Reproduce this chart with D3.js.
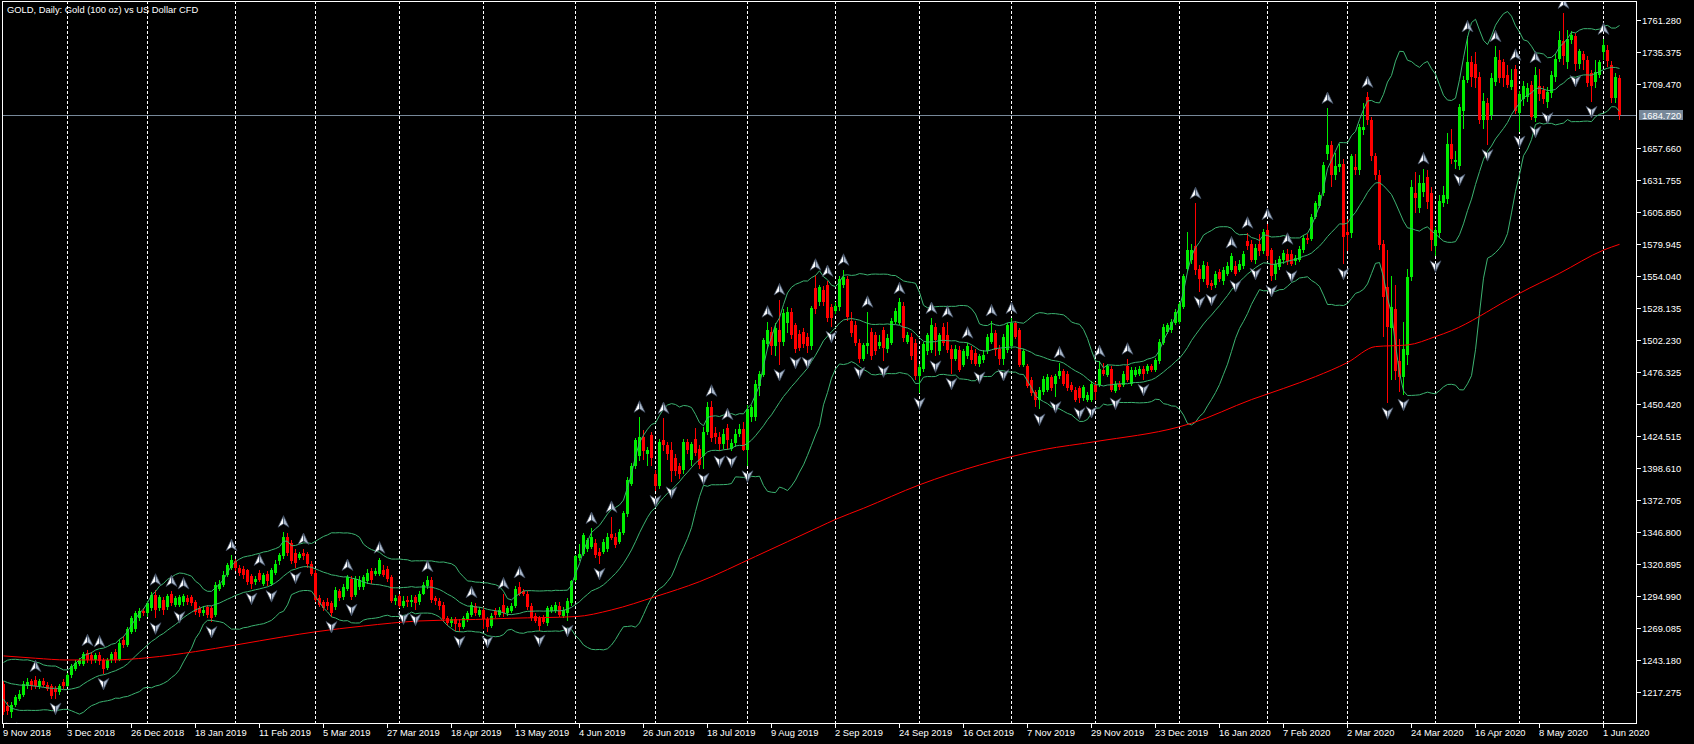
<!DOCTYPE html>
<html><head><meta charset="utf-8">
<script src="https://cdn.jsdelivr.net/npm/d3@7"></script>
<style>html,body{margin:0;padding:0;background:#000;overflow:hidden}</style>
</head><body>
<svg id="chart" width="1694" height="744"></svg>
<script>
// ---------- DATA ----------
const chartTitle = "GOLD, Daily: Gold (100 oz) vs US Dollar CFD";
const firstDate = "2018-11-09";
const holidays = ["2018-12-25","2019-01-01","2019-04-19","2019-12-25","2020-01-01","2020-04-10"];

const opens = [
1224,1206,1201,1207,1212,1215,1222,1226,1227,1222,
1226,1223,1222,1220,1217,1225,1222,1231,1236,1240,
1240,1249,1247,1243,1247,1243,1237,1243,1250,1243,
1259,1255,1266,1268,1277,1283,1281,1285,1296,1285,
1292,1286,1297,1288,1288,1290,1293,1294,1290,1285,
1281,1286,1285,1280,1301,1304,1312,1318,1323,1318,
1317,1316,1311,1306,1314,1305,1313,1305,1314,1323,
1327,1343,1338,1330,1326,1330,1329,1321,1314,1293,
1290,1290,1289,1286,1299,1294,1301,1309,1296,1302,
1302,1307,1315,1313,1313,1316,1317,1310,1291,1295,
1287,1292,1290,1294,1290,1297,1303,1308,1293,1291,
1288,1277,1273,1276,1273,1270,1276,1280,1287,1280,
1284,1276,1271,1283,1280,1288,1281,1283,1287,1302,
1299,1297,1287,1279,1277,1278,1273,1283,1283,1287,
1279,1281,1289,1308,1326,1329,1333,1335,1338,1331,
1331,1333,1345,1343,1339,1346,1361,1386,1400,1408,
1424,1410,1425,1394,1384,1421,1417,1413,1407,1400,
1397,1420,1405,1422,1414,1408,1428,1448,1427,1424,
1418,1431,1414,1419,1426,1430,1413,1440,1440,1465,
1474,1499,1509,1497,1510,1501,1516,1525,1514,1507,
1509,1505,1497,1544,1533,1543,1547,1529,1526,1529,
1547,1552,1518,1514,1500,1487,1497,1509,1506,1497,
1510,1495,1500,1517,1516,1530,1501,1505,1500,1473,
1479,1493,1494,1513,1493,1513,1506,1495,1487,1494,
1482,1489,1494,1492,1483,1486,1493,1501,1508,1495,
1487,1494,1497,1516,1510,1482,1481,1470,1460,1454,
1460,1462,1472,1467,1473,1477,1475,1466,1462,1463,
1455,1454,1454,1466,1466,1478,1474,1479,1461,1467,
1466,1481,1467,1474,1475,1479,1477,1481,1478,1485,
1500,1509,1510,1516,1517,1529,1560,1567,1578,1560,
1552,1562,1548,1547,1557,1550,1556,1559,1562,1559,
1562,1582,1580,1567,1580,1574,1591,1575,1556,1561,
1567,1572,1572,1566,1567,1575,1585,1584,1602,1611,
1621,1653,1660,1636,1642,1645,1590,1589,1642,1640,
1672,1699,1680,1651,1636,1580,1545,1512,1527,1485,
1472,1490,1553,1621,1609,1622,1634,1621,1578,1589,
1613,1616,1661,1646,1643,1688,1713,1727,1726,1715,
1680,1694,1684,1711,1729,1727,1717,1707,1722,1686,
1697,1699,1709,1682,1708,1705,1695,1702,1715,1730,
1744,1727,1745,1748,1726,1734,1729,1718,1711,1717,
1735,1737,1725,1698,1714];

const highs = [
1226,1209,1209,1215,1219,1226,1229,1228,1230,1228,
1229,1225,1224,1222,1224,1228,1233,1240,1243,1245,
1250,1251,1250,1249,1250,1245,1245,1250,1252,1260,
1263,1270,1279,1283,1285,1285,1291,1298,1300,1296,
1294,1297,1299,1295,1296,1297,1296,1296,1292,1287,
1287,1288,1287,1306,1308,1315,1322,1328,1325,1320,
1319,1317,1313,1311,1316,1314,1315,1318,1324,1330,
1347,1346,1340,1333,1331,1333,1331,1323,1316,1296,
1292,1293,1291,1302,1301,1305,1312,1311,1311,1311,
1312,1317,1318,1318,1326,1320,1319,1312,1296,1297,
1295,1295,1296,1296,1299,1306,1311,1310,1295,1293,
1290,1279,1278,1278,1276,1279,1283,1290,1289,1286,
1286,1278,1281,1285,1286,1297,1287,1289,1303,1306,
1301,1299,1289,1281,1279,1280,1287,1288,1290,1290,
1286,1293,1308,1328,1337,1346,1342,1350,1341,1334,
1341,1346,1359,1346,1349,1364,1391,1403,1423,1440,
1429,1416,1428,1397,1422,1439,1420,1420,1410,1403,
1422,1422,1420,1431,1417,1432,1452,1453,1432,1428,
1430,1434,1422,1430,1434,1436,1450,1450,1470,1477,
1504,1517,1513,1516,1535,1527,1529,1528,1516,1510,
1512,1508,1530,1555,1547,1546,1550,1531,1533,1554,
1559,1554,1525,1518,1503,1500,1525,1512,1509,1506,
1513,1507,1520,1528,1536,1533,1509,1508,1503,1483,
1501,1508,1520,1516,1508,1516,1517,1498,1498,1497,
1495,1500,1497,1495,1491,1494,1507,1518,1510,1498,
1507,1516,1520,1518,1512,1495,1483,1472,1462,1464,
1473,1475,1474,1475,1484,1479,1477,1468,1464,1465,
1466,1460,1469,1468,1485,1484,1483,1481,1469,1469,
1477,1487,1480,1480,1481,1481,1483,1483,1488,1503,
1515,1516,1519,1527,1533,1556,1590,1580,1613,1563,
1566,1565,1551,1558,1560,1561,1565,1573,1566,1567,
1574,1589,1583,1580,1588,1592,1596,1577,1567,1570,
1575,1576,1575,1571,1578,1587,1588,1604,1615,1622,
1646,1690,1663,1654,1661,1649,1600,1653,1653,1677,
1694,1703,1683,1654,1640,1583,1575,1554,1547,1503,
1517,1560,1632,1638,1636,1641,1640,1626,1594,1620,
1627,1670,1673,1655,1693,1716,1748,1732,1735,1719,
1702,1698,1718,1740,1737,1730,1725,1722,1725,1704,
1712,1710,1712,1723,1722,1708,1707,1720,1734,1752,
1767,1753,1752,1751,1738,1736,1732,1721,1729,1729,
1746,1741,1728,1718,1717];

const lows = [
1199,1199,1196,1205,1210,1213,1220,1219,1220,1220,
1221,1218,1212,1212,1215,1220,1221,1229,1234,1238,
1238,1241,1240,1241,1239,1232,1235,1241,1241,1242,
1253,1254,1264,1266,1275,1279,1278,1283,1277,1283,
1280,1284,1287,1286,1286,1287,1288,1287,1280,1278,
1279,1277,1274,1278,1299,1302,1310,1316,1315,1311,
1309,1304,1301,1304,1306,1303,1303,1303,1312,1320,
1325,1327,1321,1318,1324,1324,1318,1311,1290,1286,
1283,1284,1278,1284,1291,1292,1299,1292,1294,1300,
1300,1305,1305,1311,1311,1310,1306,1289,1288,1285,
1285,1286,1286,1284,1288,1296,1301,1289,1288,1284,
1274,1271,1270,1267,1266,1268,1274,1278,1279,1278,
1268,1266,1269,1277,1278,1278,1279,1281,1285,1295,
1295,1284,1275,1273,1267,1272,1271,1281,1281,1278,
1277,1275,1287,1306,1323,1327,1331,1333,1326,1321,
1329,1331,1340,1334,1337,1344,1359,1384,1398,1404,
1405,1400,1400,1380,1382,1412,1405,1387,1392,1390,
1394,1410,1400,1408,1398,1398,1425,1420,1418,1412,
1414,1413,1412,1416,1424,1412,1400,1436,1437,1457,
1472,1495,1490,1489,1482,1497,1508,1503,1492,1493,
1496,1492,1494,1523,1530,1530,1517,1513,1523,1526,
1544,1518,1505,1497,1484,1485,1491,1486,1490,1495,
1485,1492,1498,1515,1514,1501,1499,1486,1470,1459,
1476,1490,1492,1489,1490,1497,1492,1475,1485,1476,
1480,1487,1483,1481,1480,1484,1491,1499,1489,1482,
1482,1492,1495,1503,1480,1480,1463,1457,1448,1446,
1458,1460,1461,1456,1471,1465,1461,1460,1452,1451,
1453,1452,1452,1454,1464,1473,1472,1460,1459,1462,
1464,1468,1465,1472,1473,1470,1475,1476,1476,1483,
1498,1507,1508,1514,1515,1527,1557,1564,1555,1541,
1549,1544,1543,1544,1549,1547,1554,1557,1554,1557,
1560,1575,1565,1564,1570,1572,1567,1550,1551,1559,
1564,1563,1562,1563,1565,1573,1580,1582,1600,1609,
1619,1648,1626,1632,1638,1564,1574,1585,1636,1636,
1668,1676,1647,1632,1575,1505,1451,1470,1470,1460,
1458,1482,1550,1605,1605,1618,1608,1574,1570,1585,
1610,1612,1645,1641,1640,1673,1710,1707,1706,1677,
1673,1660,1680,1708,1710,1707,1706,1705,1685,1671,
1692,1695,1680,1679,1696,1693,1690,1698,1711,1727,
1725,1722,1742,1720,1722,1721,1707,1695,1706,1714,
1729,1723,1694,1694,1680];

const closes = [
1201,1202,1207,1213,1216,1224,1225,1222,1222,1226,
1223,1220,1214,1217,1222,1222,1231,1238,1241,1243,
1248,1243,1243,1247,1242,1236,1243,1248,1243,1257,
1255,1268,1277,1281,1283,1281,1289,1296,1284,1294,
1284,1295,1289,1293,1294,1295,1290,1289,1282,1281,
1284,1280,1277,1304,1305,1312,1320,1324,1318,1314,
1312,1306,1305,1309,1308,1312,1307,1316,1321,1328,
1343,1330,1323,1322,1329,1327,1321,1313,1292,1288,
1285,1287,1281,1300,1293,1302,1310,1294,1309,1308,
1310,1314,1308,1315,1324,1312,1309,1291,1293,1287,
1291,1290,1292,1289,1297,1304,1308,1292,1291,1287,
1276,1273,1276,1272,1270,1277,1281,1288,1281,1284,
1276,1270,1279,1280,1284,1281,1285,1287,1301,1297,
1297,1286,1277,1275,1271,1274,1285,1286,1288,1280,
1284,1291,1307,1327,1329,1344,1340,1343,1328,1327,
1339,1343,1342,1336,1347,1362,1389,1400,1421,1424,
1412,1413,1407,1384,1420,1417,1410,1396,1396,1394,
1420,1413,1418,1411,1401,1428,1448,1423,1424,1418,
1426,1421,1419,1426,1430,1413,1446,1448,1467,1475,
1502,1510,1497,1512,1501,1524,1525,1506,1495,1496,
1499,1497,1528,1527,1545,1533,1520,1520,1530,1552,
1553,1521,1508,1500,1487,1498,1500,1489,1493,1501,
1496,1504,1518,1526,1533,1504,1506,1489,1473,1480,
1499,1506,1514,1502,1506,1500,1494,1487,1495,1478,
1493,1497,1486,1483,1489,1490,1505,1508,1494,1487,
1505,1514,1516,1505,1482,1493,1465,1459,1454,1462,
1471,1472,1463,1473,1477,1467,1463,1462,1454,1455,
1464,1458,1467,1460,1479,1475,1481,1462,1467,1464,
1475,1470,1478,1478,1479,1475,1481,1478,1486,1501,
1513,1514,1517,1525,1531,1554,1575,1575,1559,1552,
1563,1547,1546,1556,1552,1559,1562,1570,1556,1564,
1572,1578,1567,1577,1574,1590,1570,1554,1564,1568,
1573,1566,1564,1569,1576,1585,1583,1602,1613,1620,
1644,1660,1636,1643,1645,1586,1587,1651,1640,1675,
1675,1680,1651,1636,1579,1537,1513,1529,1477,1472,
1495,1553,1626,1617,1629,1629,1614,1583,1591,1615,
1620,1661,1649,1648,1691,1713,1727,1715,1714,1680,
1696,1680,1714,1731,1714,1714,1709,1713,1688,1701,
1708,1706,1683,1717,1701,1697,1703,1717,1730,1745,
1732,1746,1749,1726,1736,1729,1710,1708,1719,1727,
1741,1728,1698,1715,1684.72];

// closes of the 19 sessions before the first visible bar (Bollinger warm-up)
const warmupCloses = [1230,1226,1223,1227,1227,1222,1231,1232,1232,1235,1228,1223,1215,1233,1233,1231,1227,1226,1224];

// 200-period moving average at these bars
const maIdx  = [0,8,16,27,36,48,58,70,78,90,104,118,127,143,152,163,174,188,204,208,215,229,244,260,273,294,297,312,320,328,336,343,351,358,362,376,379,389,400,404];
const maVals = [1246.5,1244.6,1243.2,1243.2,1245,1250,1255.3,1262,1266,1270.7,1274.8,1276,1277,1278.3,1283.7,1294.5,1306.6,1327,1351,1357,1366,1385,1401,1413.5,1420,1432,1434.8,1454,1463,1472.6,1484,1496.9,1498.2,1505,1509.8,1534.6,1540,1556.2,1575,1579.7];

const priceTicks = ["1217.275","1243.180","1269.085","1294.990","1320.895","1346.800","1372.705","1398.610","1424.515","1450.420","1476.325","1502.230","1528.135","1554.040","1579.945","1605.850","1631.755","1657.660","1709.470","1735.375","1761.280"];
const dateTicks = ["9 Nov 2018","3 Dec 2018","26 Dec 2018","18 Jan 2019","11 Feb 2019","5 Mar 2019","27 Mar 2019","18 Apr 2019","13 May 2019","4 Jun 2019","26 Jun 2019","18 Jul 2019","9 Aug 2019","2 Sep 2019","24 Sep 2019","16 Oct 2019","7 Nov 2019","29 Nov 2019","23 Dec 2019","16 Jan 2020","7 Feb 2020","2 Mar 2020","24 Mar 2020","16 Apr 2020","8 May 2020","1 Jun 2020"];
const bidPrice = 1684.72;
const bbPeriod = 20, bbDev = 2;

// ---------- LAYOUT ----------
const W = 1694, H = 744;
const L = 2, T = 1, R = 1636, B = 723;
const FONT = "'Liberation Sans', Arial, sans-serif";
const upColor = "#00ee00", downColor = "#ff0000";
const bandColor = "#3cb371", maColor = "#ff0000", bidColor = "#778899";

// trading dates
const parseD = d3.utcParse("%Y-%m-%d"), isoF = d3.utcFormat("%Y-%m-%d"), labF = d3.utcFormat("%-d %b %Y");
const dates = [];
let dd = parseD(firstDate);
while (dates.length < closes.length) {
  const wd = dd.getUTCDay();
  if (wd !== 0 && wd !== 6 && !holidays.includes(isoF(dd))) dates.push(dd);
  dd = d3.utcDay.offset(dd, 1);
}

const n = closes.length;
const x = d3.scaleLinear().domain([0, n - 1]).range([3, 3 + 4 * (n - 1)]);
const y = d3.scaleLinear().domain([+priceTicks[0], +priceTicks[priceTicks.length - 1]]).range([692, 20]);
const px = i => Math.round(x(i));

const svg = d3.select("#chart");
svg.append("rect").attr("width", W).attr("height", H).attr("fill", "#000");
svg.append("defs").append("clipPath").attr("id", "plot")
  .append("rect").attr("x", L + 1).attr("y", T + 1).attr("width", R - L - 1).attr("height", B - T - 1);

const plot = svg.append("g").attr("clip-path", "url(#plot)");

// month grid lines
const monthStarts = d3.range(1, n).filter(i => dates[i].getUTCMonth() !== dates[i - 1].getUTCMonth());
plot.append("g").selectAll("line").data(monthStarts).join("line")
  .attr("x1", i => px(i) + 0.5).attr("x2", i => px(i) + 0.5)
  .attr("y1", T).attr("y2", B)
  .attr("stroke", "#fff").attr("stroke-width", 1).attr("stroke-dasharray", "3,2")
  .attr("shape-rendering", "crispEdges");

// bid line
plot.append("line").attr("x1", L).attr("x2", R)
  .attr("y1", Math.round(y(bidPrice)) + 0.5).attr("y2", Math.round(y(bidPrice)) + 0.5)
  .attr("stroke", bidColor).attr("shape-rendering", "crispEdges");

// candles
const idx = d3.range(n);
const cg = plot.append("g").attr("shape-rendering", "crispEdges");
cg.selectAll("rect.w").data(idx).join("rect").attr("class", "w")
  .attr("x", i => px(i)).attr("width", 1)
  .attr("y", i => Math.round(y(highs[i])))
  .attr("height", i => Math.max(1, Math.round(y(lows[i])) - Math.round(y(highs[i]))))
  .attr("fill", i => closes[i] >= opens[i] ? upColor : downColor);
cg.selectAll("rect.b").data(idx).join("rect").attr("class", "b")
  .attr("x", i => px(i) - 1).attr("width", 3)
  .attr("y", i => Math.round(y(Math.max(opens[i], closes[i]))))
  .attr("height", i => Math.max(1, Math.round(y(Math.min(opens[i], closes[i]))) - Math.round(y(Math.max(opens[i], closes[i])))))
  .attr("fill", i => closes[i] >= opens[i] ? upColor : downColor);

// Bollinger bands (20, 2)
const allC = warmupCloses.concat(closes);
const wu = warmupCloses.length;
const bands = idx.map(i => {
  const win = allC.slice(i + wu - bbPeriod + 1, i + wu + 1);
  const m = d3.mean(win);
  const sd = Math.sqrt(d3.mean(win, v => (v - m) * (v - m)));
  return { i, mid: m, up: m + bbDev * sd, lo: m - bbDev * sd };
});
["up", "mid", "lo"].forEach(k => {
  plot.append("path").datum(bands)
    .attr("d", d3.line().x(d => px(d.i) + 0.5).y(d => y(d[k])))
    .attr("fill", "none").attr("stroke", bandColor).attr("stroke-width", 1);
});

// 200 MA
const maPts = maIdx.map((i, k) => ({ i, v: maVals[k] }));
plot.append("path").datum(maPts)
  .attr("d", d3.line().x(d => px(d.i) + 0.5).y(d => y(d.v)).curve(d3.curveMonotoneX))
  .attr("fill", "none").attr("stroke", maColor).attr("stroke-width", 1);

// fractals
const upF = [], dnF = [];
for (let i = 2; i < n - 2; i++) {
  if (highs[i] >= highs[i - 1] && highs[i] >= highs[i - 2] && highs[i] > highs[i + 1] && highs[i] > highs[i + 2]) upF.push(i);
  if (lows[i] <= lows[i - 1] && lows[i] <= lows[i - 2] && lows[i] < lows[i + 1] && lows[i] < lows[i + 2]) dnF.push(i);
}
const fg = plot.append("g");
function arrow(g, cx, cy, dir) {
  const s = dir; // -1 up, 1 down
  const tipY = 6 * s, baseY = 5.5 * -s, notchY = 2 * -s;
  const a = g.append("g").attr("transform", `translate(${cx},${cy})`);
  a.append("path").attr("d", `M0,${tipY}L-5.5,${baseY}L0,${notchY}Z`).attr("fill", "#ffffff").attr("stroke", "#3c4a60").attr("stroke-width", 0.7);
  a.append("path").attr("d", `M0,${tipY}L5.5,${baseY}L0,${notchY}Z`).attr("fill", "#a9b6c8").attr("stroke", "#3c4a60").attr("stroke-width", 0.7);
}
upF.forEach(i => arrow(fg, px(i) + 0.5, y(highs[i]) - 10, -1));
dnF.forEach(i => arrow(fg, px(i) + 0.5, y(lows[i]) + 10, 1));

// frame
const fr = svg.append("g").attr("stroke", "#fff").attr("shape-rendering", "crispEdges");
fr.append("line").attr("x1", L).attr("x2", R + 1).attr("y1", T + 0.5).attr("y2", T + 0.5);
fr.append("line").attr("x1", L + 0.5).attr("x2", L + 0.5).attr("y1", T).attr("y2", B + 1);
fr.append("line").attr("x1", R + 0.5).attr("x2", R + 0.5).attr("y1", T).attr("y2", B + 1);
fr.append("line").attr("x1", L).attr("x2", R + 1).attr("y1", B + 0.5).attr("y2", B + 0.5);

// price axis
const pa = svg.append("g");
priceTicks.forEach(t => {
  const yy = Math.round(y(+t)) + 0.5;
  pa.append("line").attr("x1", R + 1).attr("x2", R + 5).attr("y1", yy).attr("y2", yy)
    .attr("stroke", "#fff").attr("shape-rendering", "crispEdges");
  pa.append("text").attr("x", R + 6).attr("y", yy + 3.5).text(t)
    .attr("fill", "#fff").attr("font-family", FONT).attr("font-size", "9.4px");
});
const by = Math.round(y(bidPrice));
pa.append("rect").attr("x", R + 3).attr("y", by - 5).attr("width", 44).attr("height", 10).attr("fill", bidColor);
pa.append("text").attr("x", R + 6).attr("y", by + 3.5).text(bidPrice.toFixed(3))
  .attr("fill", "#fff").attr("font-family", FONT).attr("font-size", "9.4px");

// date axis
const da = svg.append("g");
dateTicks.forEach(lab => {
  const i = dates.findIndex(d => labF(d) === lab);
  if (i < 0) return;
  const xx = px(i) + 0.5;
  da.append("line").attr("x1", xx).attr("x2", xx).attr("y1", B + 1).attr("y2", B + 5)
    .attr("stroke", "#fff").attr("shape-rendering", "crispEdges");
  da.append("text").attr("x", px(i)).attr("y", 735.5).text(lab)
    .attr("fill", "#fff").attr("font-family", FONT).attr("font-size", "9.4px");
});

// title
svg.append("text").attr("x", 7).attr("y", 13).text(chartTitle)
  .attr("fill", "#fff").attr("font-family", FONT).attr("font-size", "9.4px");
</script>
</body></html>
